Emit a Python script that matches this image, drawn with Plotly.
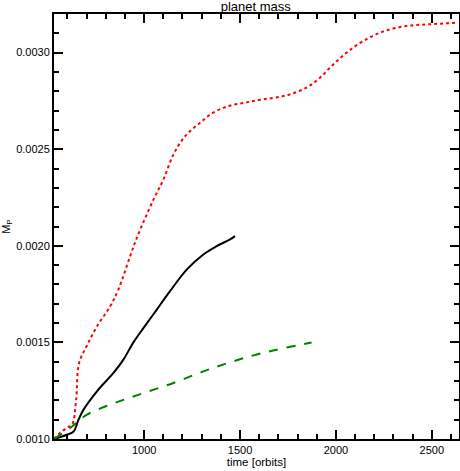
import plotly.graph_objects as go

# red dotted series
red_t = [531, 560, 600, 624, 645, 661, 700, 754, 823, 866, 927, 962, 1049, 1101, 1153, 1214, 1292,
         1360, 1439, 1530, 1621, 1743, 1847, 1917, 1986, 2056, 2142, 2246, 2368, 2490, 2637]
red_m = [0.00100, 0.00103, 0.00106, 0.001074, 0.00120, 0.001394, 0.00148, 0.001583, 0.001687, 0.001774,
         0.001946, 0.002041, 0.00224, 0.002344, 0.002473, 0.002568, 0.002637,
         0.002689, 0.002723, 0.002742, 0.002758, 0.002779, 0.002819, 0.00287, 0.002939, 0.00300,
         0.00306, 0.003109, 0.003138, 0.003147, 0.003155]

# black solid series
blk_t = [531, 597, 632, 658, 684, 754, 840, 892, 944, 997, 1066, 1135, 1222, 1309, 1378, 1448, 1474]
blk_m = [0.00100, 0.001022, 0.001039, 0.00110, 0.001152, 0.001247, 0.001342, 0.001411, 0.00150,
         0.001575, 0.00167, 0.001765, 0.001877, 0.001955, 0.001998, 0.002033, 0.00205]

# green dashed series
grn_t = [531, 624, 702, 849, 997, 1153, 1309, 1448, 1621, 1873]
grn_m = [0.00100, 0.001065, 0.001126, 0.001187, 0.001238, 0.00129, 0.00135, 0.001397, 0.001446, 0.00150]

x_ticks = [1000, 1500, 2000, 2500]
y_ticks = [0.0010, 0.0015, 0.0020, 0.0025, 0.0030]

FONT = "Liberation Sans, Arial, sans-serif"

fig = go.Figure()
fig.add_trace(go.Scatter(x=red_t, y=red_m, mode="lines", line=dict(color="#ff0000", width=2, dash="dot", shape="spline")))
fig.add_trace(go.Scatter(x=blk_t, y=blk_m, mode="lines", line=dict(color="black", width=2, shape="spline")))
fig.add_trace(go.Scatter(x=grn_t, y=grn_m, mode="lines", line=dict(color="#008000", width=2, dash="dash", shape="spline")))

axis_common = dict(
    showgrid=False, zeroline=False, showline=True, linecolor="black", linewidth=2,
    mirror="ticks", ticks="inside", ticklen=9, tickwidth=1.5, tickcolor="black",
    tickfont=dict(family=FONT, size=11, color="black"),
)

fig.update_layout(
    width=460, height=471,
    margin=dict(l=54, r=1, t=14, b=32, autoexpand=False),
    paper_bgcolor="white", plot_bgcolor="white",
    showlegend=False,
    title=dict(text="planet mass", x=0.556, xanchor="center", yref="container", y=0.996, yanchor="top",
               pad=dict(t=0, b=0),
               font=dict(family=FONT, size=13, color="black")),
    xaxis=dict(range=[530, 2642], tickvals=x_ticks,
               minor=dict(dtick=100, tick0=0, ticks="inside", ticklen=5, tickcolor="black", tickwidth=1.5),
               title=dict(text="time [orbits]", standoff=2, font=dict(family=FONT, size=11.5, color="black")),
               **axis_common),
    yaxis=dict(range=[0.0010, 0.0032], tickvals=y_ticks, tickformat=".4f",
               minor=dict(dtick=0.0001, tick0=0, ticks="inside", ticklen=5, tickcolor="black", tickwidth=1.5),
               title=dict(text="M<sub>P</sub>", standoff=4, font=dict(family=FONT, size=11, color="black")),
               **axis_common),
)

fig.write_html("out.html", config={"displayModeBar": False},
               post_script="document.body.style.margin='0';")
